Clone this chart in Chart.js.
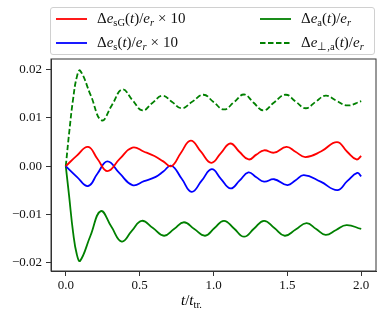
<!DOCTYPE html>
<html>
<head>
<meta charset="utf-8">
<script src="https://cdn.jsdelivr.net/npm/chart.js@4"></script>
<style>
  body { margin: 0; background: #fff; }
  #wrap { position: relative; width: 383px; height: 316px; }
  #legend {
    position: absolute; left: 50px; top: 7px; width: 325px; height: 48px;
    border: 1px solid #d0d0d0; border-radius: 3px; background: rgba(255,255,255,0.8);
    box-sizing: border-box;
  }
  .item { position: absolute; font-family: "Liberation Serif", serif; font-size: 15px; color: #111; white-space: nowrap; line-height: 1; }
  .item i { font-style: italic; }
  .item sub { font-size: 10.5px; vertical-align: -3px; line-height: 0; }
  .times { margin: 0 4px; }
  svg.sample { position: absolute; }
  #xlabel { position: absolute; left: 0; width: 383px; top: 292px; text-align: center;
    font-family: "Liberation Serif", serif; font-size: 15px; }
  #xlabel sub { font-size: 10.5px; vertical-align: -3px; line-height: 0; }
</style>
</head>
<body>
<div id="wrap">
  <canvas id="chart" width="383" height="316"></canvas>
  <div id="legend">
    <svg class="sample" style="left:5px;top:9px" width="32" height="4"><line x1="0" y1="2" x2="31" y2="2" stroke="#ff0000" stroke-width="1.8"/></svg>
    <div class="item" style="left:46px;top:3px">Δ<i>e</i><sub>sG</sub>(<i>t</i>)/<i>e</i><sub><i>r</i></sub><span class="times">×</span>10</div>
    <svg class="sample" style="left:5px;top:33px" width="32" height="4"><line x1="0" y1="2" x2="31" y2="2" stroke="#0000ff" stroke-width="1.8"/></svg>
    <div class="item" style="left:46px;top:27px">Δ<i>e</i><sub>s</sub>(<i>t</i>)/<i>e</i><sub><i>r</i></sub><span class="times">×</span>10</div>
    <svg class="sample" style="left:209px;top:9px" width="32" height="4"><line x1="0" y1="2" x2="31" y2="2" stroke="#008000" stroke-width="1.8"/></svg>
    <div class="item" style="left:250px;top:3px">Δ<i>e</i><sub>a</sub>(<i>t</i>)/<i>e</i><sub><i>r</i></sub></div>
    <svg class="sample" style="left:209px;top:33px" width="32" height="4"><line x1="0" y1="2" x2="31" y2="2" stroke="#008000" stroke-width="1.8" stroke-dasharray="5.5 2.5"/></svg>
    <div class="item" style="left:250px;top:27px">Δ<i>e</i><sub>⊥,a</sub>(<i>t</i>)/<i>e</i><sub><i>r</i></sub></div>
  </div>
  <div id="xlabel"><i>t</i>/<i>t</i><sub>tr.</sub></div>
</div>
<script>
// values (t in units of t_tr.)
const tSG = [0, 0.075, 0.151, 0.215, 0.282, 0.365, 0.451, 0.53, 0.6, 0.66, 0.715, 0.78, 0.846, 0.915, 0.985, 1.05, 1.114, 1.175, 1.238, 1.29, 1.342, 1.41, 1.494, 1.555, 1.622, 1.73, 1.836, 1.905, 1.968, 2.0];
const eSG = [0, 0.0022, 0.0040, 0.0015, -0.0010, 0.0015, 0.00385, 0.0030, 0.0021, 0.0010, 0.0, 0.0028, 0.0053, 0.0030, 0.0007, 0.0027, 0.0047, 0.0030, 0.0014, 0.0024, 0.0033, 0.0028, 0.0040, 0.0030, 0.0019, 0.0031, 0.0050, 0.0030, 0.0014, 0.0021];

const tS = [0, 0.075, 0.151, 0.215, 0.282, 0.365, 0.451, 0.53, 0.609, 0.66, 0.715, 0.785, 0.852, 0.92, 0.988, 1.05, 1.116, 1.176, 1.236, 1.29, 1.342, 1.41, 1.5, 1.556, 1.612, 1.725, 1.838, 1.905, 1.973, 2.0];
const eS = [0, -0.0022, -0.0041, -0.0015, 0.0010, -0.0015, -0.0039, -0.0031, -0.0022, -0.0011, 0.0001, -0.0026, -0.0053, -0.0030, -0.0006, -0.0026, -0.0046, -0.0030, -0.0013, -0.0023, -0.0032, -0.0027, -0.0039, -0.0029, -0.00186, -0.0032, -0.00495, -0.0031, -0.00138, -0.0021];

const tA = [0, 0.022, 0.05, 0.075, 0.097, 0.167, 0.237, 0.308, 0.379, 0.447, 0.514, 0.59, 0.665, 0.733, 0.80, 0.87, 0.943, 1.007, 1.071, 1.139, 1.207, 1.275, 1.342, 1.412, 1.482, 1.556, 1.63, 1.695, 1.759, 1.83, 1.90, 2.0];
const eA = [0, -0.006, -0.0138, -0.0183, -0.0196, -0.0144, -0.0093, -0.0125, -0.0156, -0.0134, -0.0113, -0.0128, -0.0144, -0.0130, -0.0116, -0.0130, -0.0144, -0.0128, -0.0113, -0.0129, -0.0146, -0.0129, -0.0113, -0.0128, -0.0144, -0.0131, -0.0118, -0.0130, -0.0142, -0.0132, -0.0122, -0.0130];

const tPerp = [0, 0.025, 0.05, 0.075, 0.097, 0.17, 0.243, 0.313, 0.383, 0.451, 0.519, 0.586, 0.654, 0.72, 0.785, 0.858, 0.932, 1.0, 1.071, 1.14, 1.207, 1.27, 1.338, 1.41, 1.488, 1.556, 1.624, 1.69, 1.759, 1.83, 1.906, 2.0];
const ePerp = [0, 0.0075, 0.014, 0.0185, 0.0198, 0.0146, 0.0095, 0.0127, 0.0159, 0.0137, 0.01155, 0.0131, 0.0146, 0.0133, 0.0120, 0.0134, 0.0148, 0.0133, 0.01175, 0.0133, 0.01485, 0.0132, 0.01155, 0.0132, 0.0148, 0.0134, 0.0120, 0.0133, 0.0146, 0.0136, 0.01258, 0.01347];

const xTicks = [0, 0.5, 1.0, 1.5, 2.0];
const yTicks = [-0.02, -0.01, 0, 0.01, 0.02];

const pts = (ts, vs) => ts.map((t, i) => ({ x: t, y: vs[i] }));

const line = (data, color, dash) => ({
  data,
  borderColor: color,
  borderWidth: 1.8,
  borderDash: dash || [],
  pointRadius: 0,
  tension: 0.45,
  fill: false,
});

// matplotlib-style box round the axes
const frame = {
  id: "frame",
  afterDraw(chart) {
    const { ctx, chartArea: a } = chart;
    ctx.save();
    ctx.strokeStyle = "#333";
    ctx.lineWidth = 1;
    ctx.strokeRect(a.left, a.top, a.right - a.left, a.bottom - a.top);
    ctx.restore();
  },
};

const tickFont = { family: "Liberation Serif", size: 13 };

new Chart(document.getElementById("chart"), {
  type: "line",
  data: {
    datasets: [
      line(pts(tSG, eSG), "#ff0000"),
      line(pts(tS, eS), "#0000ff"),
      line(pts(tA, eA), "#008000"),
      line(pts(tPerp, ePerp), "#008000", [5.5, 2.5]),
    ],
  },
  options: {
    responsive: false,
    animation: false,
    layout: { padding: { top: 59, right: 7, left: 0, bottom: 0 } },
    plugins: { legend: { display: false }, tooltip: { enabled: false } },
    scales: {
      x: {
        type: "linear",
        min: -0.1,
        max: 2.1,
        afterBuildTicks: (s) => { s.ticks = xTicks.map((v) => ({ value: v })); },
        afterFit: (s) => { s.height = 45; },
        grid: { drawOnChartArea: false, tickLength: 5, tickColor: "#333" },
        border: { color: "#333" },
        ticks: { color: "#111", font: tickFont, padding: 2, maxRotation: 0,
          callback: (v) => v.toFixed(1) },
      },
      y: {
        min: -0.0217,
        max: 0.0222,
        afterBuildTicks: (s) => { s.ticks = yTicks.map((v) => ({ value: v })); },
        afterFit: (s) => { s.width = 51; },
        grid: { drawOnChartArea: false, tickLength: 5, tickColor: "#333" },
        border: { color: "#333" },
        ticks: { color: "#111", font: tickFont, padding: 4,
          callback: (v) => (v < 0 ? "\u2212" : "") + Math.abs(v).toFixed(2) },
      },
    },
  },
  plugins: [frame],
});
</script>
</body>
</html>
